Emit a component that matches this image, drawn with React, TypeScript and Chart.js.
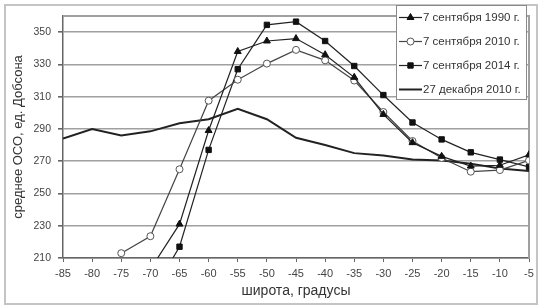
import { useEffect, useRef } from 'react';
import { Chart, registerables } from 'chart.js';
import { drawPoint } from 'chart.js/helpers';

Chart.register(...registerables);

const latitudes = [-85, -80, -75, -70, -65, -60, -55, -50, -45, -40, -35, -30, -25, -20, -15, -10, -5];
const xTickValues = [-85, -80, -75, -70, -65, -60, -55, -50, -45, -40, -35, -30, -25, -20, -15, -10, -5];
const yTickValues = [210, 230, 250, 270, 290, 310, 330, 350];

const seriesLabels = ['7 сентября 1990 г.', '7 сентября 2010 г.', '7 сентября 2014 г.', '27 декабря 2010 г.'];
const sep1990 = [null, null, null, 203, 231, 289, 338, 344.5, 346, 336, 322, 299, 281.5, 273, 267, 267.5, 274];
const sep2010 = [null, null, 213, 223.5, 265, 307.5, 320.5, 330.5, 339, 332.5, 320, 300.5, 282.5, 272, 263.5, 264.5, 270.5];
const sep2014 = [null, null, null, 186, 217, 277, 327, 354.5, 356.5, 344.5, 329, 311, 294, 283.5, 275.5, 271, 266.5];
const dec2010 = [284, 290, 286, 288.5, 293.5, 296, 302.5, 296, 284.5, 280, 275, 273.5, 271, 270.5, 268.5, 265.5, 264];

const xTitle = 'широта, градусы';
const yTitle = 'среднее ОСО, ед. Добсона';

const FONT = '"Liberation Sans", Arial, sans-serif';

const toPoints = (vals: (number | null)[]) =>
  latitudes
    .map((x, i) => (vals[i] == null ? null : { x, y: vals[i] as number }))
    .filter((p) => p !== null) as { x: number; y: number }[];

const framePlugin = {
  id: 'frame',
  beforeDraw(chart: any) {
    const { ctx, width, height } = chart;
    ctx.save();
    ctx.fillStyle = '#ffffff';
    ctx.fillRect(0, 0, width, height);
    ctx.strokeStyle = '#c4c4c4';
    ctx.lineWidth = 2;
    ctx.strokeRect(5, 5, 532, 299);
    ctx.restore();
  },
  beforeDatasetsDraw(chart: any) {
    const { ctx, chartArea } = chart;
    ctx.save();
    ctx.strokeStyle = '#a0a0a0';
    ctx.lineWidth = 2;
    ctx.beginPath();
    ctx.moveTo(chartArea.left, chartArea.top);
    ctx.lineTo(chartArea.right, chartArea.top);
    ctx.lineTo(chartArea.right, chartArea.bottom);
    ctx.stroke();
    ctx.restore();
  },
};

const legendPlugin = {
  id: 'boxLegend',
  afterDraw(chart: any) {
    const ctx = chart.ctx;
    const x0 = 396, y0 = 5, w = 131, h = 95;
    ctx.save();
    ctx.fillStyle = '#ffffff';
    ctx.fillRect(x0, y0, w, h);
    ctx.strokeStyle = '#8a8a8a';
    ctx.lineWidth = 1;
    ctx.strokeRect(x0 + 0.5, y0 + 0.5, w - 1, h - 1);
    chart.data.datasets.forEach((ds: any, i: number) => {
      const cy = 17.5 + i * 24;
      ctx.strokeStyle = ds.borderColor;
      ctx.lineWidth = ds.borderWidth;
      ctx.beginPath();
      ctx.moveTo(399, cy);
      ctx.lineTo(422, cy);
      ctx.stroke();
      if (ds.pointRadius > 0) {
        ctx.fillStyle = ds.pointBackgroundColor;
        ctx.strokeStyle = ds.pointBorderColor;
        ctx.lineWidth = ds.pointBorderWidth;
        drawPoint(ctx, { pointStyle: ds.pointStyle, radius: ds.pointRadius, rotation: 0, borderWidth: ds.pointBorderWidth } as any, 410.5, cy);
      }
      ctx.fillStyle = '#333333';
      ctx.font = `11.5px ${FONT}`;
      ctx.textBaseline = 'middle';
      ctx.textAlign = 'left';
      ctx.fillText(ds.label, 423, cy + 0.5);
    });
    ctx.restore();
  },
};

export default function App() {
  const ref = useRef<HTMLCanvasElement | null>(null);

  useEffect(() => {
    if (!ref.current) return;
    const chart = new Chart(ref.current, {
      type: 'line',
      data: {
        datasets: [
          {
            label: seriesLabels[0],
            data: toPoints(sep1990),
            borderColor: '#222222',
            borderWidth: 1.2,
            pointStyle: 'triangle',
            pointRadius: 4,
            pointBackgroundColor: '#111111',
            pointBorderColor: '#111111',
            pointBorderWidth: 1,
            tension: 0,
          },
          {
            label: seriesLabels[1],
            data: toPoints(sep2010),
            borderColor: '#444444',
            borderWidth: 1.2,
            pointStyle: 'circle',
            pointRadius: 3.5,
            pointBackgroundColor: '#ffffff',
            pointBorderColor: '#555555',
            pointBorderWidth: 1,
            tension: 0,
          },
          {
            label: seriesLabels[2],
            data: toPoints(sep2014),
            borderColor: '#222222',
            borderWidth: 1.2,
            pointStyle: 'rect',
            pointRadius: 3.8,
            pointBackgroundColor: '#111111',
            pointBorderColor: '#111111',
            pointBorderWidth: 1,
            tension: 0,
          },
          {
            label: seriesLabels[3],
            data: toPoints(dec2010),
            borderColor: '#222222',
            borderWidth: 2,
            pointRadius: 0,
            pointBorderWidth: 0,
            pointBackgroundColor: '#222222',
            pointBorderColor: '#222222',
            tension: 0,
          },
        ],
      },
      options: {
        responsive: false,
        animation: false,
        events: [],
        layout: { padding: { left: 8, right: 12, top: 16, bottom: 8 } },
        plugins: {
          legend: { display: false },
          tooltip: { enabled: false },
        },
        scales: {
          x: {
            type: 'linear',
            min: -85,
            max: -5,
            afterBuildTicks: (scale: any) => {
              scale.ticks = xTickValues.map((v) => ({ value: v }));
            },
            afterFit: (scale: any) => {
              scale.height = 42;
            },
            grid: {
              drawOnChartArea: false,
              drawTicks: true,
              tickLength: 4,
              tickColor: '#666666',
            },
            border: { color: '#666666', width: 1.5 },
            ticks: {
              autoSkip: false,
              maxRotation: 0,
              padding: 5,
              color: '#444444',
              font: { family: FONT, size: 11 },
              callback: (v: any) => String(v),
            },
            title: {
              display: true,
              text: xTitle,
              color: '#333333',
              font: { family: FONT, size: 14 },
              padding: { top: 0, bottom: 0 },
            },
          },
          y: {
            type: 'linear',
            min: 210,
            max: 360,
            afterBuildTicks: (scale: any) => {
              scale.ticks = yTickValues.map((v) => ({ value: v }));
            },
            afterFit: (scale: any) => {
              scale.width = 55;
            },
            grid: {
              drawOnChartArea: true,
              color: '#a0a0a0',
              lineWidth: 1.6,
              drawTicks: true,
              tickLength: 5,
              tickColor: '#666666',
            },
            border: { color: '#666666', width: 1.5 },
            ticks: {
              padding: 7,
              color: '#444444',
              font: { family: FONT, size: 10.5 },
              callback: (v: any) => String(v),
            },
            title: {
              display: true,
              text: yTitle,
              color: '#333333',
              font: { family: FONT, size: 13 },
              padding: { top: 3, bottom: 0 },
            },
          },
        },
      },
      plugins: [framePlugin, legendPlugin],
    });
    return () => chart.destroy();
  }, []);

  return (
    <div style={{ position: 'absolute', left: 0, top: 0, width: 541, height: 308 }}>
      <canvas ref={ref} width={541} height={308} style={{ display: 'block' }} />
    </div>
  );
}
